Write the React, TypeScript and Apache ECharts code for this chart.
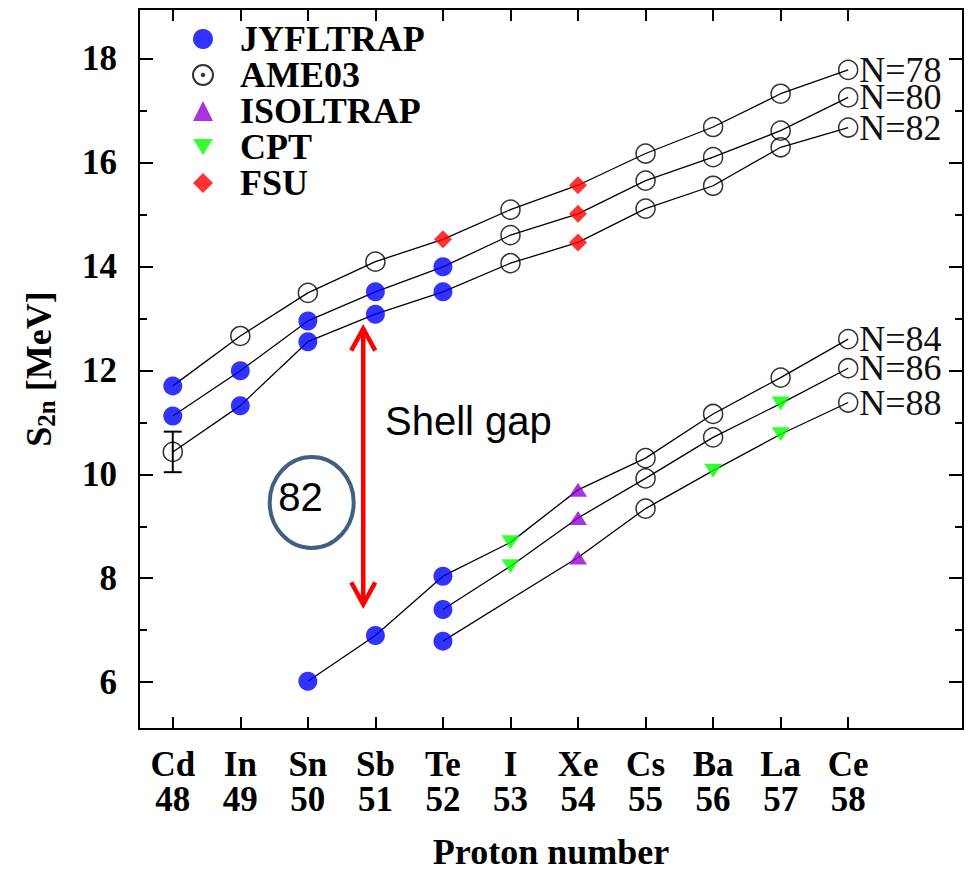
import React, { useEffect, useRef } from "react";
import * as echarts from "echarts";

// ---- data ----
const SYMBOLS = ["Cd", "In", "Sn", "Sb", "Te", "I", "Xe", "Cs", "Ba", "La", "Ce"];
const PROTONS = [48, 49, 50, 51, 52, 53, 54, 55, 56, 57, 58];
const Y_MAJOR = [6, 8, 10, 12, 14, 16, 18];
const Y_MINOR = [7, 9, 11, 13, 15, 17];

// S2n values (MeV), null = no point
const N78 = [11.7, 12.66, 13.49, 14.09, 14.52, 15.09, 15.56, 16.17, 16.68, 17.32, 17.78];
const N80 = [11.12, 11.99, 12.95, 13.51, 13.99, 14.6, 15.01, 15.65, 16.1, 16.61, 17.25];
const N82 = [10.43, 11.32, 12.55, 13.08, 13.51, 14.06, 14.46, 15.11, 15.55, 16.29, 16.67];
const N84 = [null, null, 6.02, 6.9, 8.04, 8.69, 9.7, 10.31, 11.16, 11.86, 12.6];
const N86 = [null, null, null, null, 7.4, 8.23, 9.16, 9.92, 10.71, 11.36, 12.04];
const N88 = [null, null, null, null, 6.79, null, 8.4, 9.34, 10.07, 10.77, 11.38];

// measurement source per point: J=JYFLTRAP, A=AME03, I=ISOLTRAP, C=CPT, F=FSU
const N78_SRC = ["J", "A", "A", "A", "F", "A", "F", "A", "A", "A", "A"];
const N80_SRC = ["J", "J", "J", "J", "J", "A", "F", "A", "A", "A", "A"];
const N82_SRC = ["A", "J", "J", "J", "J", "A", "F", "A", "A", "A", "A"];
const N84_SRC = ["", "", "J", "J", "J", "C", "I", "A", "A", "A", "A"];
const N86_SRC = ["", "", "", "", "J", "C", "I", "A", "A", "C", "A"];
const N88_SRC = ["", "", "", "", "J", "", "I", "A", "C", "C", "A"];

const ISOTONES = [
  { label: "N=78", values: N78, src: N78_SRC },
  { label: "N=80", values: N80, src: N80_SRC },
  { label: "N=82", values: N82, src: N82_SRC },
  { label: "N=84", values: N84, src: N84_SRC },
  { label: "N=86", values: N86, src: N86_SRC },
  { label: "N=88", values: N88, src: N88_SRC },
];

// error bar: [Z, S2n, error]
const ERROR_BARS = [[48, 10.43, 0.39]];

// shell-gap arrow: [Z, S2n top, S2n bottom]
const ARROW = [[50.82, 12.84, 7.46]];

const SOURCES = [
  { key: "J", name: "JYFLTRAP" },
  { key: "A", name: "AME03" },
  { key: "I", name: "ISOLTRAP" },
  { key: "C", name: "CPT" },
  { key: "F", name: "FSU" },
];

const SERIF = "'Liberation Serif', 'Times New Roman', serif";
const SANS = "'Liberation Sans', Arial, sans-serif";

const SOURCE_STYLE: Record<string, any> = {
  J: { symbol: "circle", symbolSize: 19, itemStyle: { color: "#0000ff" } },
  A: {
    symbol: "circle",
    symbolSize: 19,
    itemStyle: { color: "rgba(0,0,0,0)", borderColor: "#000", borderWidth: 1.5 },
  },
  I: { symbol: "triangle", symbolSize: [18, 14], itemStyle: { color: "#9400d3" } },
  C: { symbol: "path://M0,0 L20,0 L10,16 Z", symbolSize: [18, 14], itemStyle: { color: "#00ff00" } },
  F: { symbol: "diamond", symbolSize: [18, 18], itemStyle: { color: "#ff0000" } },
};

const AME_ICON =
  "path://M10,0 A10,10 0 1,1 10,20 A10,10 0 1,1 10,0 Z M10,8.8 A1.2,1.2 0 1,1 10,11.2 A1.2,1.2 0 1,1 10,8.8 Z";

function buildOption() {
  const lineSeries = ISOTONES.map((iso) => {
    const data: number[][] = [];
    iso.values.forEach((v, i) => {
      if (v !== null) data.push([PROTONS[i], v]);
    });
    return {
      type: "line",
      name: iso.label,
      data,
      showSymbol: false,
      symbol: "none",
      silent: true,
      z: 2,
      lineStyle: { color: "#000", width: 1.3 },
      endLabel: {
        show: true,
        formatter: iso.label,
        distance: 11,
        fontFamily: SERIF,
        fontSize: 36,
        lineHeight: 26,
        color: "#111",
      },
    };
  });

  const scatterSeries = SOURCES.map((src) => {
    const data: number[][] = [];
    ISOTONES.forEach((iso) => {
      iso.values.forEach((v, i) => {
        if (v !== null && iso.src[i] === src.key) data.push([PROTONS[i], v]);
      });
    });
    return {
      type: "scatter",
      name: src.name,
      data,
      z: 4,
      ...SOURCE_STYLE[src.key],
    };
  });

  const errorSeries = {
    type: "custom",
    name: "err",
    data: ERROR_BARS,
    z: 3,
    silent: true,
    renderItem: (params: any, api: any) => {
      const x = api.value(0);
      const y = api.value(1);
      const e = api.value(2);
      const top = api.coord([x, y + e]);
      const bot = api.coord([x, y - e]);
      const hw = 9;
      const st = { stroke: "#000", lineWidth: 2 };
      return {
        type: "group",
        children: [
          { type: "line", shape: { x1: top[0], y1: top[1], x2: bot[0], y2: bot[1] }, style: st },
          { type: "line", shape: { x1: top[0] - hw, y1: top[1], x2: top[0] + hw, y2: top[1] }, style: st },
          { type: "line", shape: { x1: bot[0] - hw, y1: bot[1], x2: bot[0] + hw, y2: bot[1] }, style: st },
        ],
      };
    },
  };

  const arrowSeries = {
    type: "custom",
    name: "arrow",
    data: ARROW,
    z: 5,
    silent: true,
    renderItem: (params: any, api: any) => {
      const x = api.value(0);
      const top = api.coord([x, api.value(1)]);
      const bot = api.coord([x, api.value(2)]);
      const hw = 12;
      const hh = 24;
      const st = { stroke: "#ff0000", lineWidth: 4.5, fill: "none", lineJoin: "miter", lineCap: "butt" };
      return {
        type: "group",
        children: [
          { type: "line", shape: { x1: top[0], y1: top[1] + 2, x2: bot[0], y2: bot[1] - 2 }, style: st },
          {
            type: "polyline",
            shape: { points: [[top[0] - hw, top[1] + hh], [top[0], top[1] + 2], [top[0] + hw, top[1] + hh]] },
            style: st,
          },
          {
            type: "polyline",
            shape: { points: [[bot[0] - hw, bot[1] - hh], [bot[0], bot[1] - 2], [bot[0] + hw, bot[1] - hh]] },
            style: st,
          },
        ],
      };
    },
  };

  const axisLine = { show: true, lineStyle: { color: "#000", width: 2 } };
  const xMin = 47.5;
  const xMax = 59.7;
  const yMin = 5.1;
  const yMax = 18.95;

  const labelFont = { fontFamily: SERIF, fontWeight: "bold", fontSize: 35, color: "#000" };

  return {
    animation: false,
    backgroundColor: "#fff",
    grid: { left: 139, top: 9, right: 12, bottom: 145 },
    legend: {
      orient: "vertical",
      left: 187,
      top: 16,
      itemGap: 0,
      itemWidth: 20,
      itemHeight: 20,
      selectedMode: false,
      data: [
        { name: "JYFLTRAP" },
        { name: "AME03", icon: AME_ICON },
        { name: "ISOLTRAP" },
        { name: "CPT" },
        { name: "FSU" },
      ],
      textStyle: {
        fontFamily: SERIF,
        fontWeight: "bold",
        fontSize: 36,
        lineHeight: 35,
        color: "#000",
        padding: [0, 0, 0, 22],
      },
    },
    xAxis: [
      {
        type: "value",
        position: "bottom",
        min: xMin,
        max: xMax,
        axisLine,
        splitLine: { show: false },
        axisTick: { show: true, inside: true, length: 12, customValues: PROTONS, lineStyle: { color: "#000", width: 2 } },
        axisLabel: {
          show: true,
          customValues: PROTONS,
          margin: 18,
          lineHeight: 35,
          ...labelFont,
          formatter: (v: number) => `${SYMBOLS[Math.round(v) - 48]}\n${Math.round(v)}`,
        },
        name: "Proton number",
        nameLocation: "middle",
        nameGap: 105,
        nameTextStyle: { fontFamily: SERIF, fontWeight: "bold", fontSize: 36, color: "#000" },
      },
      {
        type: "value",
        position: "top",
        min: xMin,
        max: xMax,
        axisLine,
        splitLine: { show: false },
        axisTick: { show: true, inside: true, length: 12, customValues: PROTONS, lineStyle: { color: "#000", width: 2 } },
        axisLabel: { show: false },
      },
    ],
    yAxis: [
      {
        type: "value",
        position: "left",
        min: yMin,
        max: yMax,
        axisLine,
        splitLine: { show: false },
        axisTick: { show: true, inside: true, length: 14, customValues: Y_MAJOR, lineStyle: { color: "#000", width: 2 } },
        axisLabel: { show: true, customValues: Y_MAJOR, margin: 22, ...labelFont },
        name: "{s|S}{sub|2n}{s| [MeV]}",
        nameLocation: "middle",
        nameRotate: 90,
        nameGap: 80,
        nameTextStyle: {
          rich: {
            s: { fontFamily: SERIF, fontWeight: "bold", fontSize: 36, color: "#000", lineHeight: 40 },
            sub: {
              fontFamily: SERIF,
              fontWeight: "bold",
              fontSize: 25,
              color: "#000",
              lineHeight: 14,
              verticalAlign: "bottom",
            },
          },
        },
      },
      {
        type: "value",
        position: "left",
        min: yMin,
        max: yMax,
        axisLine: { show: false },
        splitLine: { show: false },
        axisTick: { show: true, inside: true, length: 8, customValues: Y_MINOR, lineStyle: { color: "#000", width: 2 } },
        axisLabel: { show: false },
      },
      {
        type: "value",
        position: "right",
        min: yMin,
        max: yMax,
        axisLine,
        splitLine: { show: false },
        axisTick: { show: true, inside: true, length: 14, customValues: Y_MAJOR, lineStyle: { color: "#000", width: 2 } },
        axisLabel: { show: false },
      },
      {
        type: "value",
        position: "right",
        min: yMin,
        max: yMax,
        axisLine: { show: false },
        splitLine: { show: false },
        axisTick: { show: true, inside: true, length: 8, customValues: Y_MINOR, lineStyle: { color: "#000", width: 2 } },
        axisLabel: { show: false },
      },
    ],
    graphic: [
      {
        type: "ellipse",
        shape: { cx: 311.7, cy: 502.5, rx: 42, ry: 45.5 },
        style: { fill: "none", stroke: "#41607f", lineWidth: 4 },
        z: 10,
      },
      {
        type: "text",
        x: 300.5,
        y: 497,
        style: {
          text: "82",
          fontFamily: SANS,
          fontSize: 40,
          fill: "#000",
          align: "center",
          verticalAlign: "middle",
        },
        z: 10,
      },
      {
        type: "text",
        x: 385,
        y: 421,
        style: {
          text: "Shell gap",
          fontFamily: SANS,
          fontSize: 40,
          fill: "#000",
          align: "left",
          verticalAlign: "middle",
        },
        z: 10,
      },
    ],
    series: [...lineSeries, errorSeries, arrowSeries, ...scatterSeries],
  };
}

export default function App() {
  const ref = useRef<HTMLDivElement>(null);
  useEffect(() => {
    if (!ref.current) return;
    const chart = echarts.init(ref.current, undefined, { renderer: "svg" });
    chart.setOption(buildOption() as any);
    return () => chart.dispose();
  }, []);
  return (
    <div
      ref={ref}
      style={{ position: "absolute", left: 0, top: 0, width: 975, height: 875, background: "#fff" }}
    />
  );
}
